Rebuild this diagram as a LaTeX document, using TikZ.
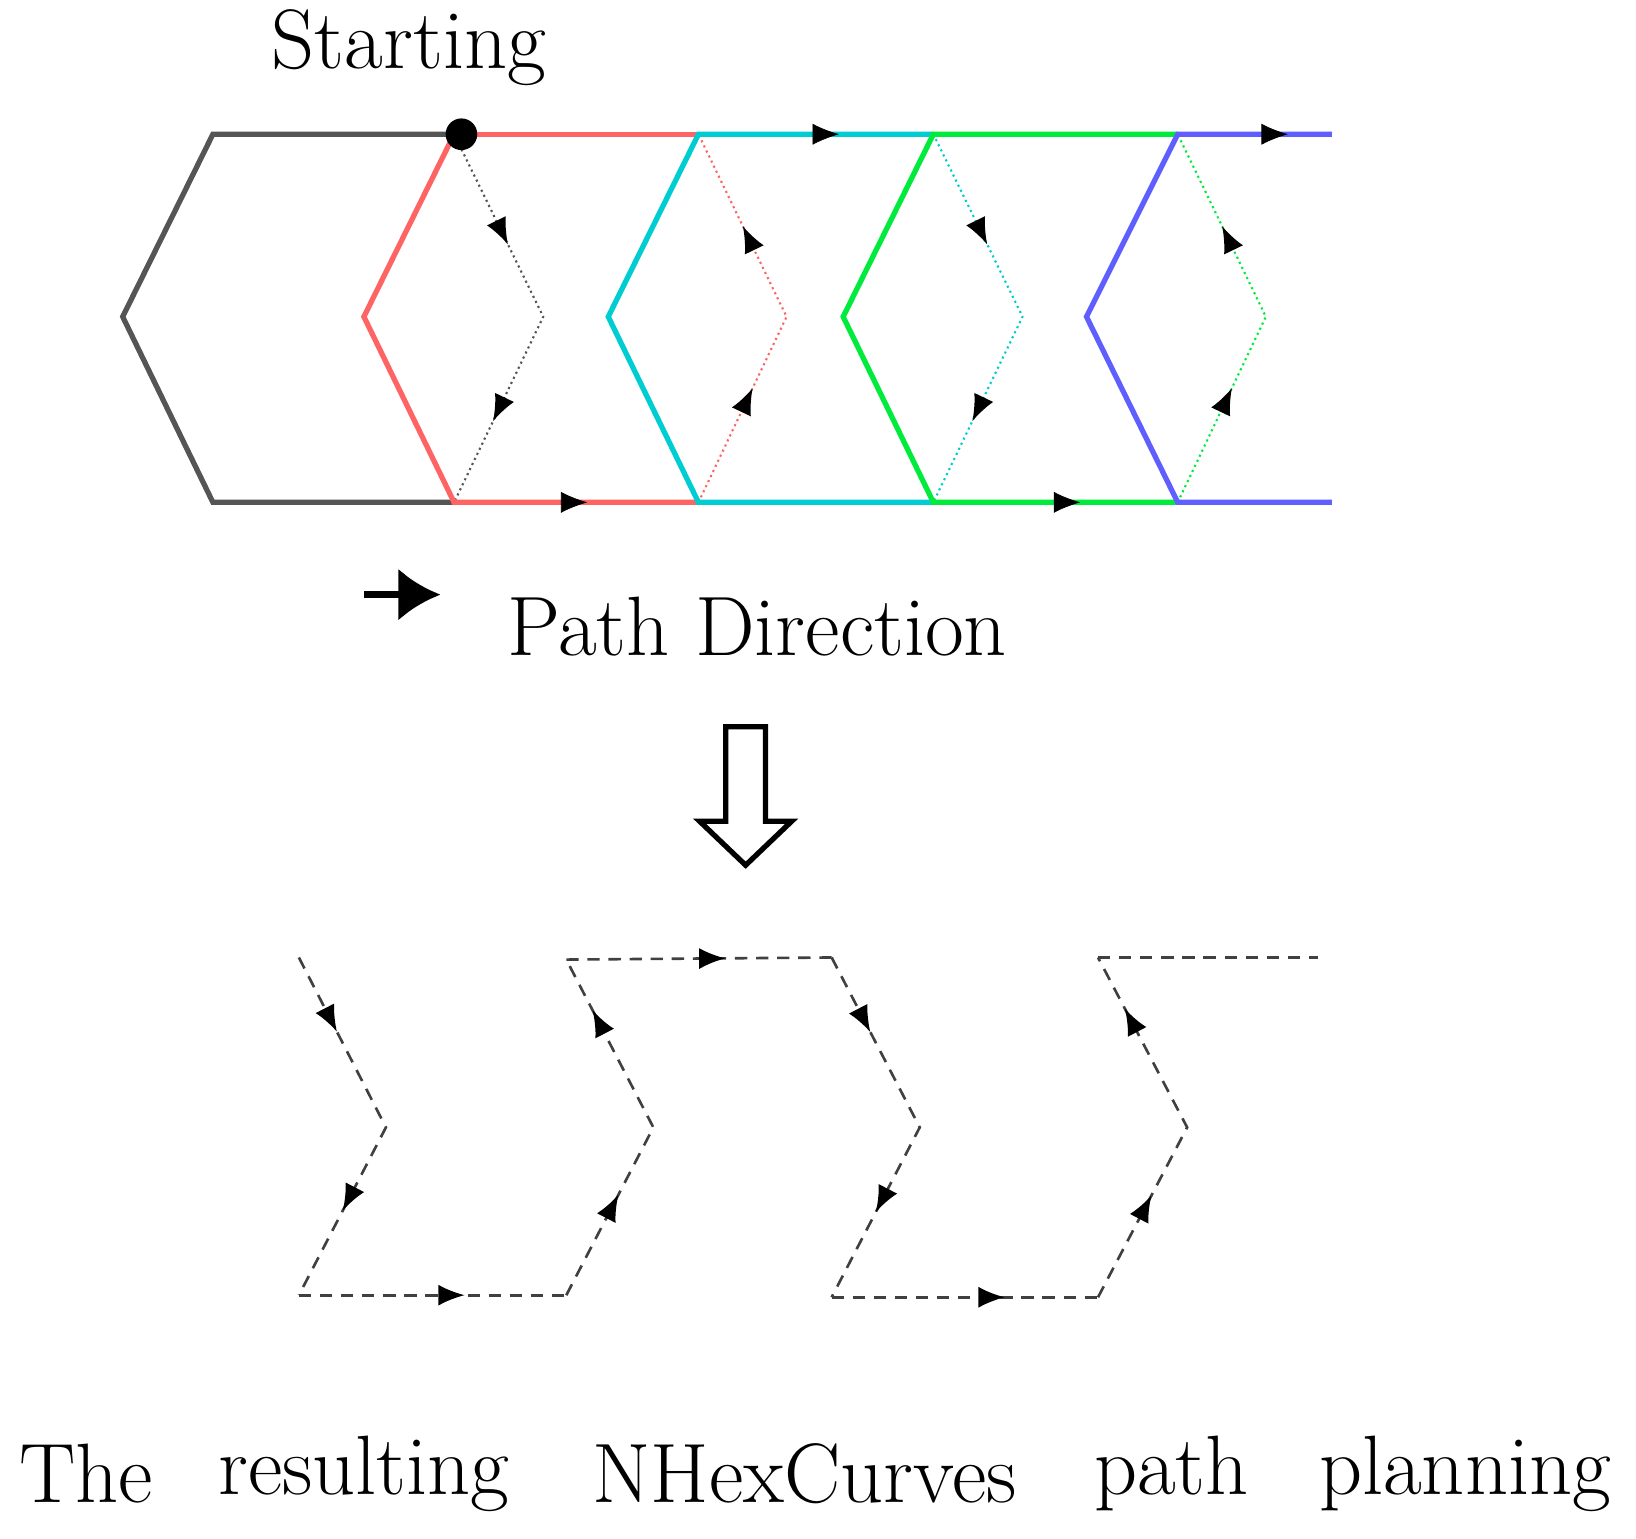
\documentclass[tikz,border=0pt]{standalone}
\usetikzlibrary{decorations.markings,arrows.meta}
\definecolor{hred}{RGB}{255,100,100}
\definecolor{hcyan}{RGB}{0,205,210}
\definecolor{hgreen}{RGB}{0,235,60}
\definecolor{hblue}{RGB}{95,95,255}
\definecolor{hgray}{RGB}{85,85,85}
\tikzset{
 solidedge/.style={line width=3pt},
 dotedge/.style={line width=1.2pt,dotted},
 mark/.style={postaction={decorate,decoration={markings,mark=at position #1 with {\arrow[solid,black]{Latex[length=15pt,width=12pt]}}}}},
 resdash/.style={black!75,line width=1.5pt,dash pattern=on 7pt off 5pt},
 lbl/.style={font=\fontsize{48}{54}\selectfont,inner sep=0pt},
}
\begin{document}
\begin{tikzpicture}[x=0.02098cm,y=-0.02098cm]
\useasboundingbox (0,0) rectangle (1560,1467);
% black
\draw[solidedge,hgray] (440,128)--(203,128)--(117,302)--(203,479)--(433,479);
\draw[dotedge,hgray,mark=0.3,mark=0.78] (433,128)--(518,302)--(433,479);
% red
\draw[solidedge,hred] (666,128)--(440,128);
\draw[solidedge,hred] (433,128)--(347,302)--(433,479)--(666,479);
\path[mark=0.5] (525,479)--(595,479);
\draw[dotedge,hred,mark=0.31,mark=0.75] (666,479)--(750,302)--(666,128);
% cyan
\draw[solidedge,hcyan] (890,128)--(666,128)--(580,302)--(666,479)--(890,479);
\path[mark=0.5] (765,128)--(835,128);
\draw[dotedge,hcyan,mark=0.3,mark=0.78] (890,128)--(975,302)--(890,479);
% green
\draw[solidedge,hgreen] (1123,128)--(890,128)--(804,302)--(890,479)--(1123,479);
\path[mark=0.5] (995,479)--(1065,479);
\draw[dotedge,hgreen,mark=0.31,mark=0.75] (1123,479)--(1207,302)--(1123,128);
% blue
\draw[solidedge,hblue] (1270,128)--(1123,128)--(1036,302)--(1123,479)--(1270,479);
\path[mark=0.5] (1198,128)--(1258,128);
\node[circle,fill=black,minimum size=18pt,inner sep=0pt] (start) at (440,128) {};
\node[lbl] (starting) at (390,45) {Starting};
% legend
\coordinate (la) at (347,567); \coordinate (lb) at (420,567);
\draw[line width=4pt,-{Latex[length=24pt,width=30pt]}] (la)--(lb);
\node[lbl] (pd) at (722,597) {Path Direction};
% hollow arrow
\draw[line width=3pt,line join=miter] (692,693)--(730,693)--(730,783)--(755,783)--(711,825)--(667,783)--(692,783)--cycle;
% result
\draw[resdash,mark=0.22,mark=0.75] (285,913)--(368,1075)--(285,1235);
\draw[resdash,mark=0.62] (285,1235)--(540,1235);
\draw[resdash,mark=0.3,mark=0.85] (540,1235)--(623,1075)--(540,915);
\draw[resdash,mark=0.6] (540,915)--(793,913);
\draw[resdash,mark=0.22,mark=0.75] (793,913)--(877,1075)--(793,1237);
\draw[resdash,mark=0.65] (793,1237)--(1047,1237);
\draw[resdash,mark=0.3,mark=0.85] (1047,1237)--(1132,1075)--(1047,913);
\draw[resdash] (1047,913)--(1257,913);
% caption
\node[lbl] (w1) at (82,1405) {The};
\node[lbl] (w2) at (347,1405) {resulting};
\node[lbl] (w3) at (767,1405) {NHexCurves};
\node[lbl] (w4) at (1117,1405) {path};
\node[lbl] (w5) at (1397,1405) {planning};
\end{tikzpicture}
\end{document}
